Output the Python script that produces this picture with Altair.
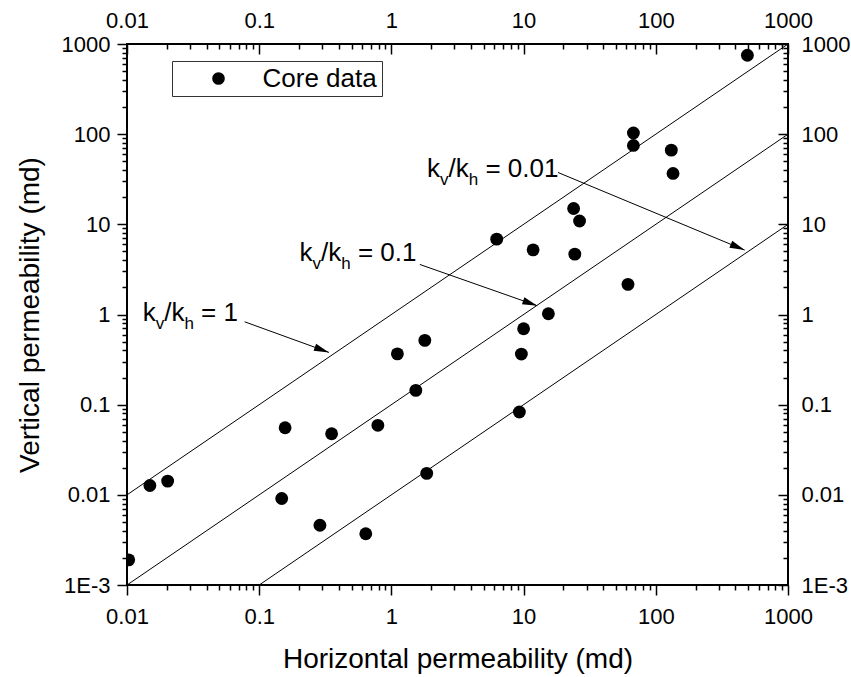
import math
import altair as alt
import pandas as pd

# ---------------- data ----------------
kh = [0.0103, 0.0149, 0.0203, 0.148, 0.157, 0.288, 0.353, 0.64, 0.79, 1.11,
      1.53, 1.79, 1.85, 6.26, 9.29, 9.62, 10.0, 11.8, 15.4, 23.9,
      24.4, 26.5, 61.6, 67.7, 67.7, 131, 135, 493]
kv = [0.0019, 0.0127, 0.0142, 0.0091, 0.0555, 0.0046, 0.0476, 0.0037, 0.059, 0.366,
      0.144, 0.516, 0.0173, 6.85, 0.083, 0.364, 0.695, 5.21, 1.02, 15.0,
      4.67, 10.9, 2.16, 103, 75, 66.5, 36.7, 751]
series_name = "Core data"

ratio_names = ["1", "0.1", "0.01"]
line_x_start = [0.01, 0.01, 0.1]
line_y_start = [0.01, 0.001, 0.001]
line_x_end = [1000, 1000, 1000]
line_y_end = [1000, 100, 10]

label_text = ["= 1", "= 0.1", "= 0.01"]
label_x = [0.01315, 0.202, 1.86]
label_y = [0.851, 3.94, 33.6]
arrow_x1 = [0.0776, 1.64, 18.2]
arrow_y1 = [0.83, 3.59, 37.6]
arrow_x2 = [0.337, 12.7, 470]
arrow_y2 = [0.38, 1.25, 5.18]

x_major = [0.01, 0.1, 1, 10, 100, 1000]
y_major = [0.001, 0.01, 0.1, 1, 10, 100, 1000]
x_minor = [m * 10.0 ** e for e in range(-2, 3) for m in range(2, 10)]
y_minor = [m * 10.0 ** e for e in range(-3, 3) for m in range(2, 10)]

# ---------------- layout / style ----------------
W, H = 661, 541
FONT = "Liberation Sans"
F_TICK, F_TITLE, F_ANN, F_SUB = 22, 28, 26, 17

pts = pd.DataFrame({"kh": kh, "kv": kv, "series": [series_name] * len(kh)})
lines = pd.DataFrame({
    "ratio": ratio_names * 2,
    "x": line_x_start + line_x_end,
    "y": line_y_start + line_y_end,
    "order": [0] * 3 + [1] * 3,
})
px_x = W / 5.0
px_y = H / 6.0
angles = []
for a, b, c, d in zip(arrow_x1, arrow_y1, arrow_x2, arrow_y2):
    dxp = (math.log10(c) - math.log10(a)) * px_x
    dyp = -(math.log10(d) - math.log10(b)) * px_y
    angles.append(math.degrees(math.atan2(dxp, -dyp)) % 360)
ann = pd.DataFrame({
    "lx": label_x, "ly": label_y, "txt": label_text,
    "x1": arrow_x1, "y1": arrow_y1, "x2": arrow_x2, "y2": arrow_y2,
    "ang": angles,
})

xs = alt.Scale(type="log", domain=[0.01, 1000], nice=False)
ys = alt.Scale(type="log", domain=[0.001, 1000], nice=False)

common = dict(labelFont=FONT, labelFontSize=F_TICK, labelColor="black",
              tickColor="black", tickWidth=1.5, domain=False, grid=False,
              labelFlush=False, labelOverlap=False)
ylab = "datum.value < 0.005 ? '1E-3' : format(datum.value, '~g')"
xlab = "format(datum.value, '~g')"

x_bottom = alt.Axis(orient="bottom", values=x_major, labelExpr=xlab, tickSize=10,
                    labelPadding=11, title="Horizontal permeability (md)",
                    titleFont=FONT, titleFontSize=F_TITLE, titleFontWeight="normal",
                    titleColor="black", titleX=W / 2, titleY=82, titleAlign="center",
                    titleBaseline="alphabetic", **common)
y_left = alt.Axis(orient="left", values=y_major, labelExpr=ylab, tickSize=10,
                  labelPadding=7, title="Vertical permeability (md)",
                  titleFont=FONT, titleFontSize=F_TITLE, titleFontWeight="normal",
                  titleColor="black", titleAngle=270, titleX=-97, titleY=H / 2,
                  titleAlign="center", titleBaseline="middle", **common)
x_bottom_minor = alt.Axis(orient="bottom", values=x_minor, labels=False, tickSize=5,
                          title=None, **common)
y_left_minor = alt.Axis(orient="left", values=y_minor, labels=False, tickSize=5,
                        title=None, **common)
x_top = alt.Axis(orient="top", values=x_major, labelExpr=xlab, tickSize=10, offset=-10,
                 labelPadding=12, title=None, **common)
y_right = alt.Axis(orient="right", values=y_major, labelExpr=ylab, tickSize=10, offset=-10,
                   labelPadding=13, title=None, **common)
x_top_minor = alt.Axis(orient="top", values=x_minor, labels=False, tickSize=5, offset=-5,
                       title=None, **common)
y_right_minor = alt.Axis(orient="right", values=y_minor, labels=False, tickSize=5, offset=-5,
                         title=None, **common)

points = alt.Chart(pts).mark_circle(size=165, opacity=1, clip=True).encode(
    x=alt.X("kh:Q", scale=xs, axis=x_bottom),
    y=alt.Y("kv:Q", scale=ys, axis=y_left),
    color=alt.Color("series:N", scale=alt.Scale(domain=[series_name], range=["black"]),
                    legend=alt.Legend(orient="none", legendX=45, legendY=17, title=None,
                                      strokeColor="#333333", fillColor="white",
                                      padding=4.5, symbolType="circle", symbolSize=160,
                                      symbolStrokeWidth=0, symbolOffset=29, labelOffset=31,
                                      labelFont=FONT, labelFontSize=F_ANN,
                                      labelColor="black")),
)

diag = alt.Chart(lines).mark_line(color="black", strokeWidth=1).encode(
    x=alt.X("x:Q", scale=xs, axis=x_bottom_minor),
    y=alt.Y("y:Q", scale=ys, axis=y_left_minor),
    detail="ratio:N",
    order="order:Q",
)

arrows = alt.Chart(ann).mark_rule(color="black", strokeWidth=1).encode(
    x=alt.X("x1:Q", scale=xs, axis=x_top),
    y=alt.Y("y1:Q", scale=ys, axis=y_right),
    x2="x2:Q",
    y2="y2:Q",
)

heads = alt.Chart(ann).mark_point(shape="M0,0L0.5,2L-0.5,2Z", filled=True, size=225,
                                  color="black", opacity=1, strokeWidth=0).encode(
    x=alt.X("x2:Q", scale=xs, axis=x_top_minor),
    y=alt.Y("y2:Q", scale=ys, axis=y_right_minor),
    angle=alt.Angle("ang:Q", scale=None),
)

pieces = [("k", 0, 0, F_ANN), ("v", 13, 8, F_SUB), ("/k", 21.5, 0, F_ANN), ("h", 41.7, 8, F_SUB)]
text_layers = []
for t, dx, dy, fs in pieces:
    text_layers.append(
        alt.Chart(ann).mark_text(align="left", baseline="alphabetic", dx=dx, dy=dy,
                                 fontSize=fs, font=FONT, color="black").encode(
            x=alt.X("lx:Q", scale=xs, axis=None),
            y=alt.Y("ly:Q", scale=ys, axis=None),
            text=alt.value(t),
        )
    )
text_layers.append(
    alt.Chart(ann).mark_text(align="left", baseline="alphabetic", dx=58.4, dy=0,
                             fontSize=F_ANN, font=FONT, color="black").encode(
        x=alt.X("lx:Q", scale=xs, axis=None),
        y=alt.Y("ly:Q", scale=ys, axis=None),
        text="txt:N",
    )
)

chart = alt.layer(diag, arrows, heads, points, *text_layers).resolve_axis(
    x="independent", y="independent"
).properties(
    width=W, height=H,
    autosize=alt.AutoSizeParams(type="none"),
    padding={"left": 127, "top": 44, "right": 63, "bottom": 92},
    background="white",
).configure_view(stroke="black", strokeWidth=2)

chart.save("out.html", embed_options={"renderer": "svg", "actions": False})
